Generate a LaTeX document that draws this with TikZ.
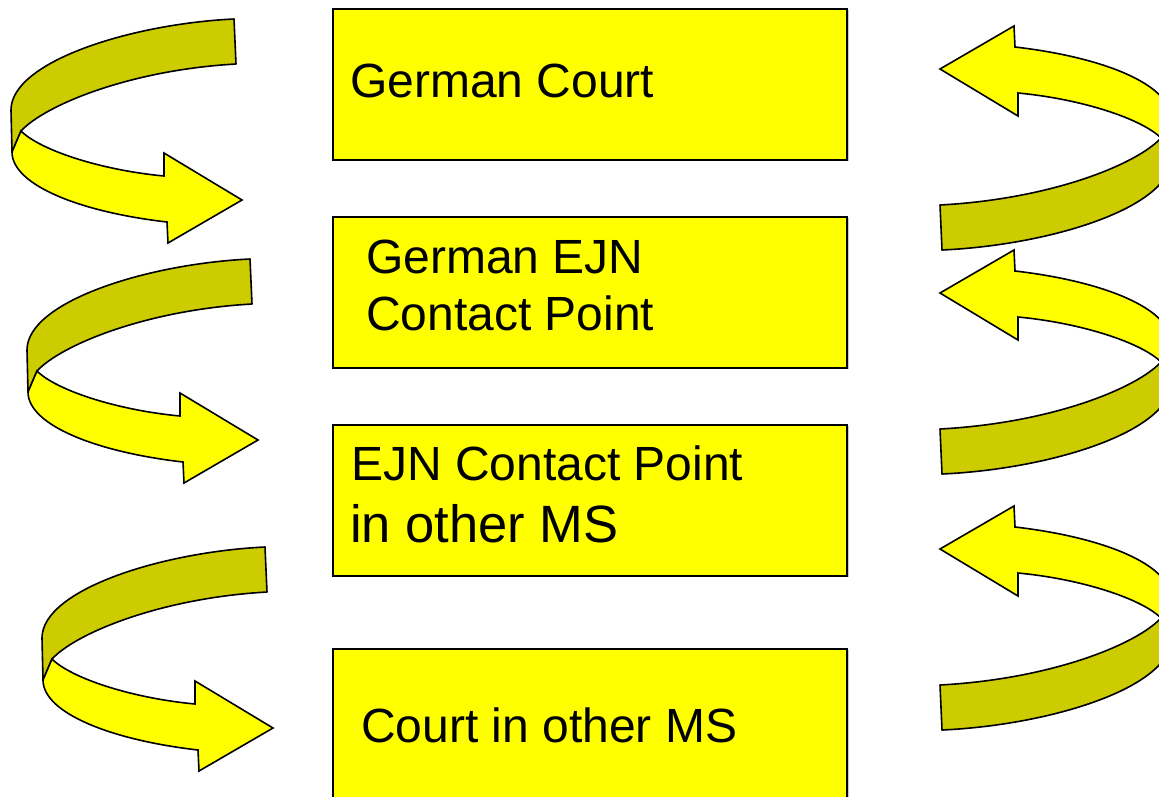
\documentclass[tikz,border=0pt]{standalone}
\usepackage{fontspec}
\setmainfont{Liberation Sans}
\definecolor{brightY}{HTML}{FFFF00}
\definecolor{darkY}{HTML}{CCCC00}
\tikzset{
  boxstyle/.style={draw=black, line width=2pt, fill=brightY, inner sep=0pt, anchor=north west, minimum width=514pt},
  labelstyle/.style={anchor=base west, inner sep=0pt, font=\fontsize{48}{57}\selectfont},
  biglabel/.style={anchor=base west, inner sep=0pt, font=\fontsize{52.5}{62}\selectfont},
  backside/.style={fill=darkY, draw=black, line width=1.6pt, line join=round},
  frontside/.style={fill=brightY, draw=black, line width=1.6pt, line join=miter},
  shadowline/.style={draw=black!22, line width=1.2pt},
}
\newcommand{\ribbonarrow}[1]{%
  \path[backside] ({234+#1},19) .. controls (130,24) and (11,62) .. (11,110) -- (12,152) -- (21,131) .. controls (45,105) and (130,70) .. ({236+#1},64) -- cycle;
  \path[frontside] (21,131) .. controls (40,150) and (100,170) .. (164,176) -- (164,153) -- (242,200) -- (168,243) -- (167,222) .. controls (80,212) and (12,185) .. (12,152) -- cycle;
}
\begin{document}
\begin{tikzpicture}[x=1pt,y=-1pt]
  \useasboundingbox (0,0) rectangle (1159,796);
  \clip (0,0) rectangle (1159,796);
  \fill[white] (0,0) rectangle (1159,796);

  % boxes
  \draw[shadowline] (848,10) -- (848,161);
  \draw[shadowline] (848,218) -- (848,369);
  \draw[shadowline] (848,426) -- (848,577);
  \draw[shadowline] (848,650) -- (848,800);
  \node[boxstyle, minimum height=151pt] (b1) at (332,8) {};
  \node[boxstyle, minimum height=151pt] (b2) at (332,216) {};
  \node[boxstyle, minimum height=151pt] (b3) at (332,424) {};
  \node[boxstyle, minimum height=172pt] (b4) at (332,648) {};

  % labels
  \node[labelstyle] (t1) at (350,97) {German Court};
  \node[labelstyle] (t2a) at (366,273) {German EJN};
  \node[labelstyle] (t2b) at (366,330) {Contact Point};
  \node[labelstyle] (t3a) at (351,480) {EJN Contact Point};
  \node[biglabel] (t3b) at (350,542) {in other MS};
  \node[labelstyle] (t4) at (361,742) {Court in other MS};

  % left ribbon arrows (pointing right / down)
  \begin{scope}[shift={(0,0)}]\ribbonarrow{0}\end{scope}
  \begin{scope}[shift={(16,240)}]\ribbonarrow{0}\end{scope}
  \begin{scope}[shift={(31,528)}]\ribbonarrow{0}\end{scope}

  % right ribbon arrows (pointing left / up), same shape turned half round
  \begin{scope}[shift={(1182,269)}, rotate=180]\ribbonarrow{6}\end{scope}
  \begin{scope}[shift={(1182,493)}, rotate=180]\ribbonarrow{6}\end{scope}
  \begin{scope}[shift={(1182,749)}, rotate=180]\ribbonarrow{6}\end{scope}
\end{tikzpicture}
\end{document}
